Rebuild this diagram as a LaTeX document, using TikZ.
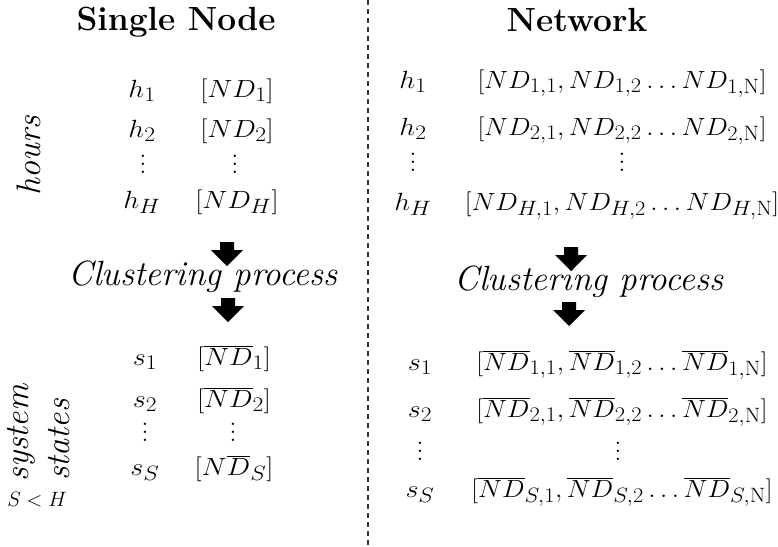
\documentclass[tikz,border=0pt]{standalone}
\usepackage{graphicx}
% widened math for each column, and a vertical ellipsis that scales with the font
\newcommand\wm[1]{\scalebox{1.13}[1]{$#1$}}
\newcommand\wn[1]{\scalebox{1.08}[1]{$#1$}}
\newcommand\vdotcol{\vbox{\baselineskip=0.28em \lineskiplimit=0pt \hbox{.}\hbox{.}\hbox{.}}}
\begin{document}
\begin{tikzpicture}[x=1pt,y=-1pt,
  title/.style={font=\fontsize{33.5}{38}\selectfont\bfseries, inner sep=0pt},
  mth/.style={font=\fontsize{32}{36}\selectfont, inner sep=0pt, anchor=base},
  dotcol/.style={font=\fontsize{29}{34}\selectfont, inner sep=0pt, anchor=center},
  proc/.style={font=\fontsize{35}{40}\selectfont\itshape, inner sep=0pt, anchor=base},
  side/.style={font=\fontsize{34}{40}\selectfont\itshape, inner sep=0pt, rotate=90},
  divider/.style={line width=1.3pt, dash pattern=on 5pt off 4pt, black!80},
  pics/downarrow/.style={code={
    \fill[black] (-7,0) -- (7,0) -- (7,8) -- (16,8) -- (0,24) -- (-16,8) -- (-7,8) -- cycle;}}]
\useasboundingbox (0,0) rectangle (778,546);
\fill[white] (0,0) rectangle (778,546);

% column titles and divider
\node[title] (tleft) at (176,22) {Single Node};
\node[title] (tright) at (577,20) {Network};
\coordinate (dtop) at (368,0);
\coordinate (dbot) at (368,546);
\draw[divider] (dtop) -- (dbot);

% single node: hourly demand
\node[mth] (lh1) at (142,97) {\wm{h_1}};
\node[mth] (lv1) at (237,97) {\wm{[ND_1]}};
\node[mth] (lh2) at (142,137) {\wm{h_2}};
\node[mth] (lv2) at (237,137) {\wm{[ND_2]}};
\node[dotcol] (lhd) at (143,164) {\vdotcol};
\node[dotcol] (lvd) at (235,164) {\vdotcol};
\node[mth] (lhH) at (142,208) {\wm{h_H}};
\node[mth] (lvH) at (237,208) {\wm{[ND_H]}};

\pic at (227,242) {downarrow};
\node[proc] (lproc) at (203,285) {Clustering process};
\pic at (228,298) {downarrow};

% single node: system states
\node[mth] (ls1) at (145,365) {\wm{s_1}};
\node[mth] (lw1) at (234,365) {\wm{[\overline{ND}_1]}};
\node[mth] (ls2) at (145,407) {\wm{s_2}};
\node[mth] (lw2) at (234,407) {\wm{[\overline{ND}_2]}};
\node[dotcol] (lsd) at (145,432) {\vdotcol};
\node[dotcol] (lwd) at (233,432) {\vdotcol};
\node[mth] (lsS) at (145,475) {\wm{s_S}};
\node[mth] (lwS) at (234,475) {\wm{[N\overline{D}_S]}};

% side labels
\node[side] (hours) at (29,156) {hours};
\node[side] (system) at (21,433) {system};
\node[side] (states) at (59,440) {states};
\node[font=\fontsize{21}{25}\selectfont, inner sep=0pt] (sltH) at (37,500) {$S<H$};

% network: hourly demand
\node[mth] (rh1) at (413,88) {\wm{h_1}};
\node[mth] (rv1) at (622,88) {\wn{\bigl[ND_{1,1}, ND_{1,2} \ldots ND_{1,\mathrm{N}}\bigr]}};
\node[mth] (rh2) at (413,135) {\wm{h_2}};
\node[mth] (rv2) at (622,135) {\wn{\bigl[ND_{2,1}, ND_{2,2} \ldots ND_{2,\mathrm{N}}\bigr]}};
\node[dotcol] (rhd) at (413,162) {\vdotcol};
\node[dotcol] (rvd) at (622,162) {\vdotcol};
\node[mth] (rhH) at (413,210) {\wm{h_H}};
\node[mth] (rvH) at (622,210) {\wn{\bigl[ND_{H,1}, ND_{H,2} \ldots ND_{H,\mathrm{N}}\bigr]}};

\pic at (571,247) {downarrow};
\node[proc] (rproc) at (589,290) {Clustering process};
\pic at (569,302) {downarrow};

% network: system states
\node[mth] (rs1) at (420,370) {\wm{s_1}};
\node[mth] (rw1) at (622,370) {\wn{\bigl[\overline{ND}_{1,1}, \overline{ND}_{1,2} \ldots \overline{ND}_{1,\mathrm{N}}\bigr]}};
\node[mth] (rs2) at (420,417) {\wm{s_2}};
\node[mth] (rw2) at (622,417) {\wn{\bigl[\overline{ND}_{2,1}, \overline{ND}_{2,2} \ldots \overline{ND}_{2,\mathrm{N}}\bigr]}};
\node[dotcol] (rsd) at (420,451) {\vdotcol};
\node[dotcol] (rwd) at (618,451) {\vdotcol};
\node[mth] (rsS) at (420,497) {\wm{s_S}};
\node[mth] (rwS) at (622,497) {\wn{\bigl[\overline{ND}_{S,1}, \overline{ND}_{S,2} \ldots \overline{ND}_{S,\mathrm{N}}\bigr]}};
\end{tikzpicture}
\end{document}
